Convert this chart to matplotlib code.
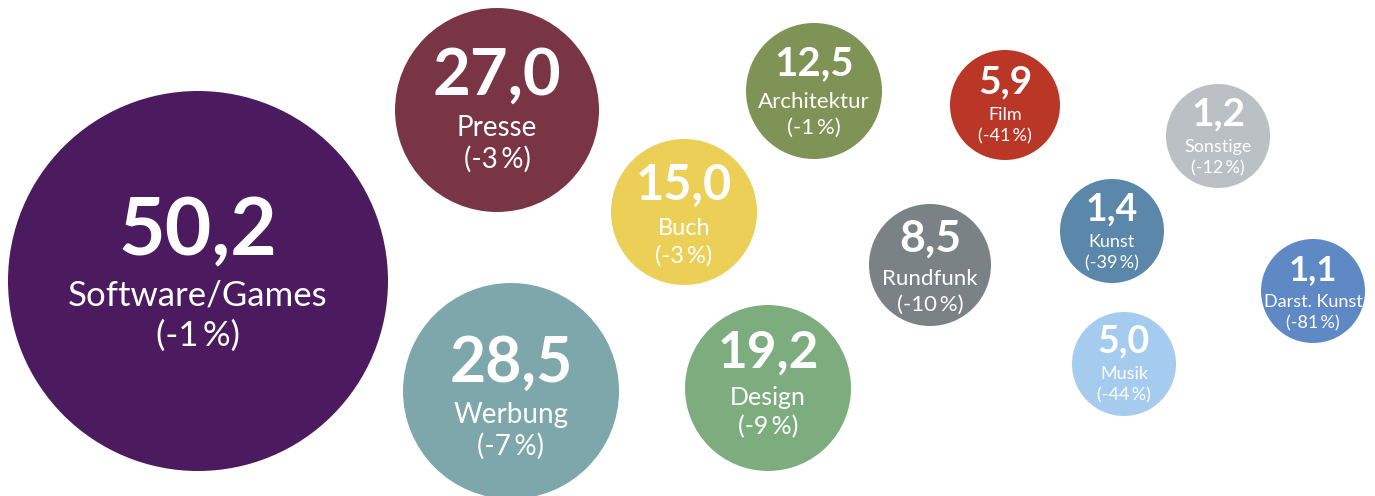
import matplotlib.pyplot as plt
from matplotlib.patches import Circle

# data
names = ['Software/Games', 'Presse', 'Werbung', 'Buch', 'Design', 'Architektur',
         'Film', 'Rundfunk', 'Sonstige', 'Kunst', 'Musik', 'Darst. Kunst']
values = [50.2, 27.0, 28.5, 15.0, 19.2, 12.5, 5.9, 8.5, 1.2, 1.4, 5.0, 1.1]
changes = [-1, -3, -7, -3, -9, -1, -41, -10, -12, -39, -44, -81]
colors = ['#4b1a5f', '#793546', '#7da7aa', '#ebcf57', '#7dad7e', '#7e9355',
          '#ba3728', '#7a8286', '#bbc0c4', '#5a87aa', '#a5ccee', '#5f89c5']

# layout (pixel units, y going down)
cx = [198, 497, 511, 684, 768, 814, 1005, 930, 1218, 1112, 1124, 1313]
cy = [281, 110, 391, 212, 388, 91, 105, 265, 136, 231, 364, 291]
rad = [190, 102, 108, 73, 83, 68, 55, 61, 52, 52, 52, 52]
num_fs = [58, 47, 45, 35, 37, 29, 28, 32, 28, 27, 27, 25]
lab_fs = [25, 20, 20, 17, 18, 16, 13, 16, 13, 13, 13, 13]
num_base = [255, 95, 382, 200, 368, 75, 93, 252, 125, 220, 352, 280]

plt.rcParams['font.family'] = ['Lato', 'DejaVu Sans']

fig = plt.figure(figsize=(13.75, 4.96), dpi=100)
ax = fig.add_axes([0, 0, 1, 1])
ax.set_xlim(0, 1375)
ax.set_ylim(496, 0)
ax.set_aspect('equal')
ax.axis('off')

for i in range(len(names)):
    ax.add_patch(Circle((cx[i], cy[i]), rad[i], color=colors[i], lw=0))
    y1 = num_base[i]
    y2 = y1 + 1.95 * lab_fs[i] + 2
    y3 = y2 + 1.6 * lab_fs[i]
    num = f'{values[i]:.1f}'.replace('.', ',')
    ax.text(cx[i], y1, num, ha='center', va='baseline', color='white',
            fontsize=num_fs[i], fontweight='bold')
    ax.text(cx[i], y2, names[i], ha='center', va='baseline', color='white',
            fontsize=lab_fs[i])
    ax.text(cx[i], y3, f'({changes[i]}\u2009%)', ha='center', va='baseline',
            color='white', fontsize=lab_fs[i])

fig.savefig('out.png', dpi=100)
